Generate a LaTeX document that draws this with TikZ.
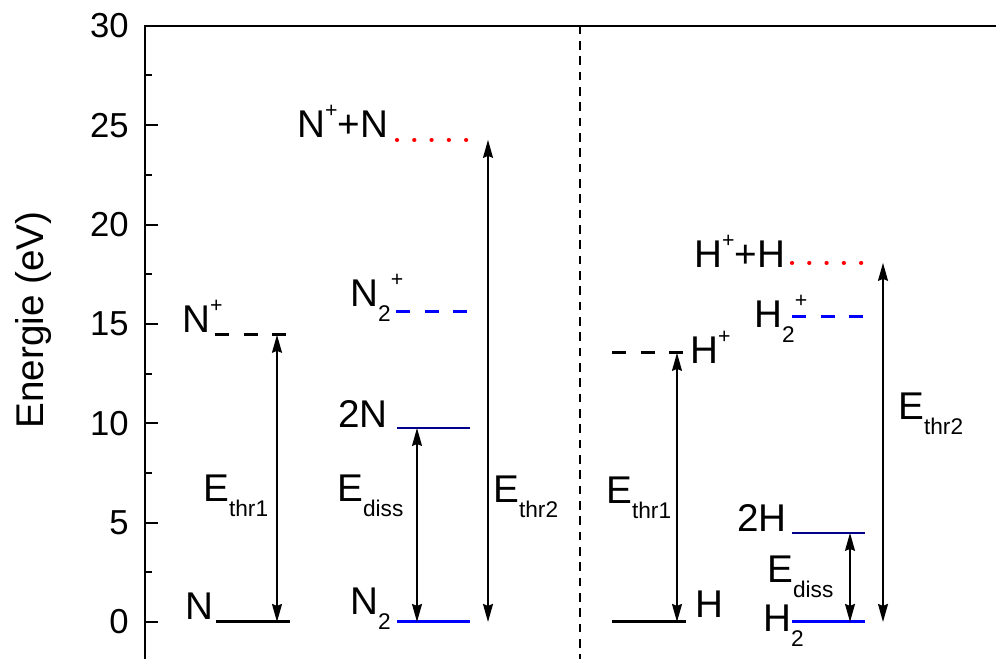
\documentclass[tikz,border=0pt]{standalone}
\usepackage{fontspec}
\setmainfont{Liberation Sans}
\usepackage{tikz}
\usetikzlibrary{positioning, arrows.meta}

\definecolor{levblue}{RGB}{0,0,255}
\definecolor{levnavy}{RGB}{0,0,140}
\definecolor{levred}{RGB}{255,0,0}

\newcommand{\lsub}[1]{\raisebox{-11pt}{\fontsize{17}{17}\selectfont #1}}
\newcommand{\lsup}[1]{\raisebox{15pt}{\fontsize{16}{16}\selectfont #1}}

\begin{document}
\begin{tikzpicture}[x=0.75pt, y=14.9025pt,
    lab/.style={anchor=base west, inner sep=0pt, font=\fontsize{29}{29}\selectfont},
    ticklab/.style={anchor=east, inner sep=0pt, font=\fontsize{26}{26}\selectfont},
    ground/.style={line width=2.3pt},
    excited/.style={line width=1.2pt, levnavy},
    ionic/.style={line width=2.3pt, dash pattern=on 10.5pt off 11pt},
    dissoc/.style={line width=3.2pt, levred, line cap=round, dash pattern=on 0.01pt off 12.95pt},
    enarrow/.style={line width=1.1pt, {Stealth[length=13.5pt,width=7.5pt,inset=1.5pt]}-{Stealth[length=13.5pt,width=7.5pt,inset=1.5pt]}}
]
    \useasboundingbox (0,-1.862) rectangle (996,31.30);
    % --- axis ---
    \draw[line width=1.5pt] (145,-1.862) -- (145,30) -- (996,30);
    \foreach \e in {0,5,...,25} {
        \draw[line width=1.5pt] (145,\e) -- (158,\e);
    }
    \foreach \e in {2.5,7.5,...,27.5} {
        \draw[line width=1.5pt] (145,\e) -- (152,\e);
    }
    \foreach \e in {0,5,...,30} {
        \node[ticklab] (tick\e) at (129,\e) {\e};
    }
    \node[rotate=90, font=\fontsize{29}{29}\selectfont] (ylab) at (34,15.2) {Energie (eV)};
    \draw[line width=1.1pt, dash pattern=on 6.5pt off 5pt] (580,30) -- (580,-1.862);

    % --- nitrogen ---
    \coordinate (Ng) at (277,0);
    \coordinate (Ni) at (277,14.45);
    \coordinate (NNg) at (417,0);
    \coordinate (NNd) at (417,9.76);
    \coordinate (NNg2) at (488,0);
    \coordinate (NNx) at (488,24.26);
    \draw[ground] (216,0) -- (290,0);
    \draw[ionic] (215,14.45) -- (287,14.45);
    \draw[ground, levblue] (397,0) -- (470,0);
    \draw[excited] (397,9.76) -- (470,9.76);
    \draw[ionic, levblue] (396,15.60) -- (468,15.60);
    \draw[dissoc] (397,24.26) -- (467,24.26);
    \draw[enarrow] (Ni) -- (Ng);
    \draw[enarrow] (NNd) -- (NNg);
    \draw[enarrow] (NNx) -- (NNg2);
    \node[lab] (labN) at (185,0.10) {N};
    \node[lab] (labNi) at (182,14.59) {N\lsup{+}};
    \node[lab] (labNthr1) at (203,6.04) {E\lsub{thr1}};
    \node[lab] (labNN) at (350,0.35) {N\lsub{2}};
    \node[lab] (labNdiss) at (337,6.04) {E\lsub{diss}};
    \node[lab] (lab2N) at (338,9.76) {2N};
    \node[lab] (labNNi) at (350,15.85) {N\lsub{2}\lsup{+}};
    \node[lab] (labNx) at (297,24.36) {N\lsup{+}+N};
    \node[lab] (labNthr2) at (493,5.99) {E\lsub{thr2}};

    % --- hydrogen ---
    \coordinate (Hg) at (677,0);
    \coordinate (Hi) at (677,13.54);
    \coordinate (HHg) at (850,0);
    \coordinate (HHd) at (850,4.48);
    \coordinate (HHg2) at (883,0);
    \coordinate (HHx) at (883,18.07);
    \draw[ground] (612,0) -- (686,0);
    \draw[ionic] (612,13.54) -- (684,13.54);
    \draw[ground, levblue] (792,0) -- (865,0);
    \draw[excited] (792,4.48) -- (865,4.48);
    \draw[ionic, levblue] (792,15.35) -- (863,15.35);
    \draw[dissoc] (792,18.07) -- (863,18.07);
    \draw[enarrow] (Hi) -- (Hg);
    \draw[enarrow] (HHd) -- (HHg);
    \draw[enarrow] (HHx) -- (HHg2);
    \node[lab] (labH) at (695,0.20) {H};
    \node[lab] (labHi) at (690,13.03) {H\lsup{+}};
    \node[lab] (labHthr1) at (606,5.94) {E\lsub{thr1}};
    \node[lab] (lab2H) at (737,4.53) {2H};
    \node[lab] (labHdiss) at (767,1.96) {E\lsub{diss}};
    \node[lab] (labHH) at (763,-0.50) {H\lsub{2}};
    \node[lab] (labHHi) at (754,14.80) {H\lsub{2}\lsup{+}};
    \node[lab] (labHx) at (694,17.82) {H\lsup{+}+H};
    \node[lab] (labHthr2) at (898,10.17) {E\lsub{thr2}};
\end{tikzpicture}
\end{document}
